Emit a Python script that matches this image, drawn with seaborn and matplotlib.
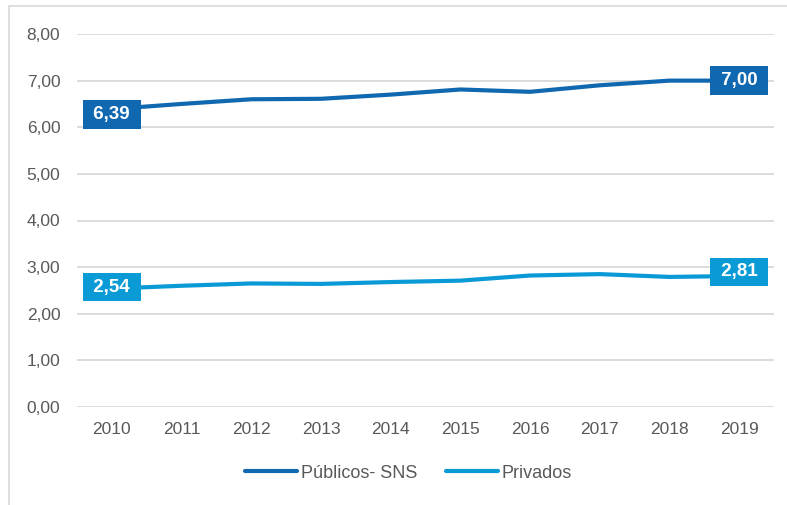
import matplotlib
matplotlib.use("Agg")
import matplotlib.pyplot as plt
import seaborn as sns
import pandas as pd
from matplotlib.lines import Line2D

years = [2010, 2011, 2012, 2013, 2014, 2015, 2016, 2017, 2018, 2019]
publicos = [6.39, 6.50, 6.60, 6.61, 6.70, 6.81, 6.76, 6.90, 7.00, 7.00]
privados = [2.54, 2.60, 2.65, 2.64, 2.68, 2.71, 2.82, 2.85, 2.79, 2.81]
series_names = ["Públicos- SNS", "Privados"]
colors = ["#1068B1", "#0A9BD7"]
yticks = [0, 1, 2, 3, 4, 5, 6, 7, 8]

sns.set_theme(style="white")
plt.rcParams["font.family"] = ["Liberation Sans", "DejaVu Sans"]

df = pd.DataFrame({
    "x": list(range(len(years))) * 2,
    "year": [str(y) for y in years] * 2,
    "value": publicos + privados,
    "serie": [series_names[0]] * len(years) + [series_names[1]] * len(years),
})

fig = plt.figure(figsize=(7.87, 5.05), dpi=100)
ax = fig.add_axes([77 / 787, 1 - 407 / 505, (774 - 77) / 787, (407 - 34) / 505])

sns.lineplot(data=df, x="x", y="value", hue="serie", palette=colors,
             linewidth=3.0, ax=ax, legend=False, sort=False,
             solid_capstyle="round", solid_joinstyle="round")

ax.set_xlim(-0.5, len(years) - 0.5)
ax.set_ylim(0, 8)
ax.set_yticks(yticks)
ax.set_yticklabels([f"{v:.2f}".replace(".", ",") for v in yticks])
ax.set_xticks(range(len(years)))
ax.set_xticklabels([str(y) for y in years])
ax.tick_params(axis="both", length=0, labelsize=12.5, labelcolor="#595959")
ax.tick_params(axis="y", pad=12)
ax.tick_params(axis="x", pad=11)
ax.set_xlabel("")
ax.set_ylabel("")
ax.grid(axis="y", color="#D9D9D9", linewidth=1.3)
ax.set_axisbelow(True)
for s in ax.spines.values():
    s.set_visible(False)

# end labels (small vertical nudges as in the reference)
nudges = {(0, 0): -4, (0, 9): 0, (1, 0): 1, (1, 9): 3}
for k, (vals, col) in enumerate(zip([publicos, privados], colors)):
    for i in [0, len(years) - 1]:
        ax.annotate(" " + f"{vals[i]:.2f}".replace(".", ",") + " ", xy=(i, vals[i]),
                    xytext=(0, nudges[(k, i)]), textcoords="offset points",
                    ha="center", va="center", color="white", fontsize=13.5,
                    fontweight="bold", zorder=5,
                    bbox=dict(boxstyle="square,pad=0.31", facecolor=col, edgecolor="none"))

handles = [Line2D([0], [0], color=c, linewidth=3.0, solid_capstyle="round") for c in colors]
fig.legend(handles, series_names, loc="center", bbox_to_anchor=(408.5 / 787, 1 - 473 / 505),
           ncol=2, frameon=False, fontsize=13, labelcolor="#595959",
           handlelength=2.9, handletextpad=0.2, columnspacing=1.6)

# outer frame (top and left)
fig.add_artist(Line2D([9 / 787, 9 / 787], [0, 1 - 6 / 505], color="#D9D9D9", linewidth=1.2,
                      transform=fig.transFigure))
fig.add_artist(Line2D([9 / 787, 1], [1 - 6 / 505, 1 - 6 / 505], color="#D9D9D9", linewidth=1.2,
                      transform=fig.transFigure))

fig.savefig("out.png", dpi=100)
